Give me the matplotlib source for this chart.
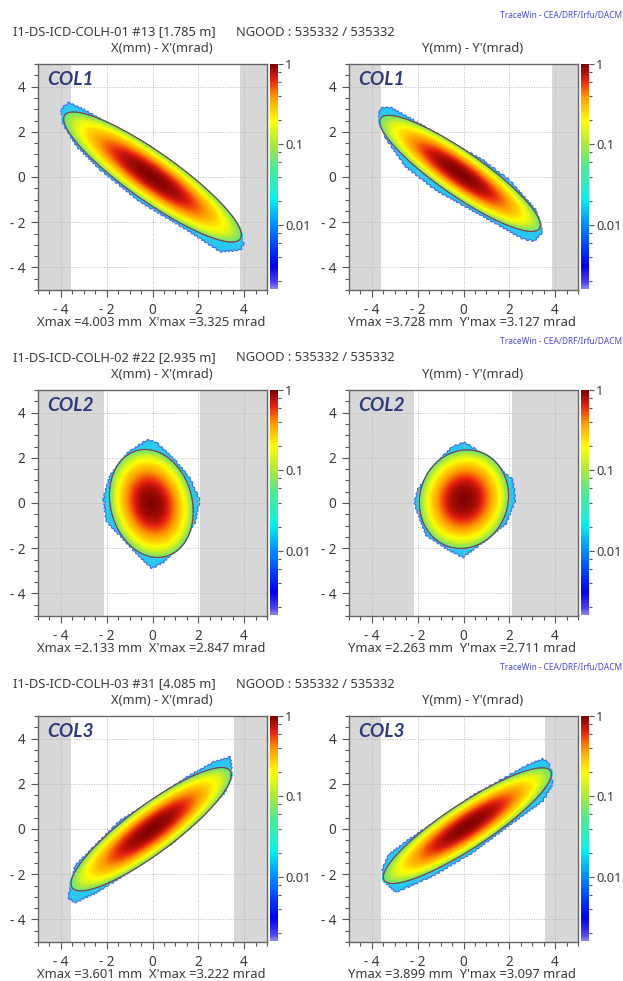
"""TraceWin phase-space plots at the three COLH collimators."""
import matplotlib
matplotlib.use("Agg")
import matplotlib.pyplot as plt
import numpy as np
from matplotlib.colors import LinearSegmentedColormap, LogNorm
from matplotlib.patches import Polygon
from matplotlib.ticker import FixedLocator, NullFormatter

W, H = 623, 981
plt.rcParams["font.family"] = ["Noto Sans", "DejaVu Sans"]

HEADERS = ["I1-DS-ICD-COLH-01 #13 [1.785 m]",
           "I1-DS-ICD-COLH-02 #22 [2.935 m]",
           "I1-DS-ICD-COLH-03 #31 [4.085 m]"]
NGOOD = "NGOOD : 535332 / 535332"
TAGS = ["COL1", "COL2", "COL3"]
SUBTITLES = ["X(mm) - X'(mrad)", "Y(mm) - Y'(mrad)"]
FOOTERS = [["Xmax =4.003 mm  X'max =3.325 mrad", "Ymax =3.728 mm  Y'max =3.127 mrad"],
           ["Xmax =2.133 mm  X'max =2.847 mrad", "Ymax =2.263 mm  Y'max =2.711 mrad"],
           ["Xmax =3.601 mm  X'max =3.222 mrad", "Ymax =3.899 mm  Y'max =3.097 mrad"]]

# collimator jaws (lower, upper) in mm
JAWS = [[(-3.57, 3.83), (-3.6, 3.87)],
        [(-2.13, 2.09), (-2.15, 2.1)],
        [(-3.55, 3.57), (-3.6, 3.57)]]

# rms ellipse: centre x, centre y, half width, half height, correlation
ELLIPSES = [[(0.0, 0.0, 3.88, 2.88, -0.892), (-0.15, 0.16, 3.51, 2.57, -0.89)],
            [(-0.05, -0.02, 1.83, 2.39, -0.15), (0.02, 0.17, 1.95, 2.18, 0.07)],
            [(-0.06, -0.01, 3.5, 2.73, 0.88), (0.17, 0.15, 3.67, 2.56, 0.89)]]

# outline of the beam halo
HALOS = [[
    [(-4.0, 3.0), (-3.68, 3.29), (-3.02, 3.0), (-2, 2.4), (0, 1.3), (2.38, -0.71), (3.55, -2.04),
     (3.99, -2.93), (3.84, -3.23), (2.96, -3.3), (1.5, -2.34), (-0.54, -1.1), (-2.29, 0.33),
     (-3.31, 1.36), (-3.9, 2.33)],
    [(-3.72, 2.68), (-3.62, 3.05), (-3.18, 3.08), (-2.09, 2.46), (-0.63, 1.57), (0.83, 0.76),
     (2, -0.13), (3.17, -1.47), (3.46, -2.43), (3.09, -2.84), (2.58, -2.73), (1.42, -2.06),
     (0.1, -1.32), (-1.21, -0.58), (-2.53, 0.46), (-3.4, 1.72)],
], [
    [(-2.15, 0.19), (-1.85, 1.23), (-1.12, 2.19), (-0.25, 2.79), (0.12, 2.71), (0.92, 1.97),
     (1.65, 1.08), (2.06, 0.12), (1.87, -0.84), (1.21, -1.88), (0.48, -2.62), (-0.03, -2.89),
     (-0.61, -2.33), (-1.42, -1.44), (-2, -0.84)],
    [(-2.15, -0.01), (-2, 0.58), (-1.2, 1.76), (-0.47, 2.5), (0.04, 2.68), (0.55, 2.36),
     (1.58, 1.54), (2.16, 1.02), (2.26, 0.13), (1.87, -0.9), (0.99, -1.64), (-0.03, -2.41),
     (-0.76, -2.01), (-1.64, -1.42)],
], [
    [(-3.68, -3.04), (-3.39, -1.63), (-2.58, -0.81), (-1.42, 0.37), (-0.1, 1.19), (1.5, 2.3),
     (2.67, 2.96), (3.4, 3.19), (3.47, 2.59), (3.18, 1.63), (2.38, 0.81), (0.92, -0.59),
     (-0.83, -1.78), (-2.44, -2.81), (-3.39, -3.26)],
    [(-3.55, -1.79), (-3.26, -1.13), (-2.38, -0.46), (-1.07, 0.43), (0.39, 1.47), (1.71, 2.21),
     (2.73, 2.8), (3.46, 3.1), (3.72, 2.95), (3.9, 1.99), (3.46, 1.24), (2.15, 0.28),
     (0.39, -1.05), (-1.36, -2.09), (-2.96, -2.8), (-3.47, -2.31)],
]]

# density against normalised ellipse radius
PROFILE_R = [0.0, 0.25, 0.37, 0.5, 0.62, 0.75, 0.88, 1.0]
PROFILE_D = [1.0, 0.85, 0.7, 0.5, 0.36, 0.24, 0.14, 0.06]

TICKS = [-4, -2, 0, 2, 4]
TICK_LABELS = ["- 4", "- 2", "0", "2", "4"]
MINOR_TICKS = [-5, -4.5, -3.5, -3, -2.5, -1.5, -1, -0.5, 0.5, 1, 1.5, 2.5, 3, 3.5, 4.5, 5]
CB_TICKS = [1, 0.1, 0.01]
CB_TICK_LABELS = ["1", "0.1", "0.01"]
CB_MINOR = [0.8, 0.6, 0.4, 0.2, 0.08, 0.06, 0.04, 0.02, 0.008, 0.006, 0.004, 0.002]

# colour bar stops, position from the bottom
CMAP_POS = [0, 0.03, 0.10, 0.19, 0.29, 0.40, 0.44, 0.545, 0.64, 0.75, 0.855, 0.93, 1]
CMAP_COL = ["#8a80f0", "#4a40f0", "#0000f0", "#0040ff", "#0090ff", "#00f0f0", "#20f0d0",
            "#50e890", "#a8e840", "#ffff00", "#ff9a00", "#e82010", "#7a0000"]

ROW_TOPS = [64, 390, 716]
COL_LEFTS = [38, 349]
AX_W, AX_H = 229, 226
CB_GAP, CB_W = 2.5, 8.5
TEXT_COLOR = "#3a3a3a"
GREY = "#d8d8d8"
VMIN = 0.0016
FS = 9.3


def fig_box(x, y, w, h):
    return [x / W, 1 - (y + h) / H, w / W, h / H]


def put(fig, x, y, s, **kw):
    kw.setdefault("color", TEXT_COLOR)
    kw.setdefault("va", "center")
    return fig.text(x / W, 1 - y / H, s, **kw)


CMAP = LinearSegmentedColormap.from_list("tw", list(zip(CMAP_POS, CMAP_COL)))
NORM = LogNorm(VMIN, 1)


def norm_radius(xx, yy, e):
    cx, cy, a, b, rho = e
    u, v = (xx - cx) / a, (yy - cy) / b
    return np.sqrt((u * u - 2 * rho * u * v + v * v) / (1 - rho * rho))


def ellipse_line(e, scale=1.0):
    cx, cy, a, b, rho = e
    t = np.linspace(0, 2 * np.pi, 300)
    return cx + scale * a * np.cos(t), cy + scale * b * np.cos(t - np.arccos(rho))


fig = plt.figure(figsize=(W / 100, H / 100), dpi=100)
grid = np.linspace(-5, 5, 451)
xx, yy = np.meshgrid(grid, grid)

for row, top in enumerate(ROW_TOPS):
    put(fig, 13, top - 32, HEADERS[row], fontsize=FS)
    put(fig, 236, top - 32, NGOOD, fontsize=FS)
    put(fig, 622, top - 48, "TraceWin - CEA/DRF/Irfu/DACM", fontsize=6.0,
        color="#4a4ae0", ha="right")
    for col, left in enumerate(COL_LEFTS):
        e = ELLIPSES[row][col]
        ax = fig.add_axes(fig_box(left, top, AX_W, AX_H))
        lo, hi = JAWS[row][col]
        ax.axvspan(-5, lo, color=GREY, lw=0, zorder=0)
        ax.axvspan(hi, 5, color=GREY, lw=0, zorder=0)
        ax.set_axisbelow(False)
        ax.grid(True, which="major", color="#b8b8b8", lw=0.7, ls=(0, (1, 1.6)), zorder=1)

        # halo rim under the density
        halo = Polygon(HALOS[row][col], closed=True, facecolor="#28c8f0", edgecolor="#3a70f0",
                       lw=0.8, joinstyle="round", zorder=2)
        halo.set_sketch_params(0.8, 5, 2)
        ax.add_patch(halo)
        rim_x, rim_y = ellipse_line(e, 1.02)
        ax.fill(rim_x, rim_y, color="#28d0e8", lw=0, zorder=2.5)

        r = norm_radius(xx, yy, e)
        dens = np.exp(np.interp(r, PROFILE_R, np.log(PROFILE_D)))
        dens = np.ma.masked_where(r > 1, dens)
        ax.imshow(dens, extent=(-5, 5, -5, 5), origin="lower", cmap=CMAP, norm=NORM,
                  interpolation="bilinear", aspect="auto", zorder=3)
        ax.plot(*ellipse_line(e), color="#8a3a45", lw=0.8, zorder=5)
        ax.set_xlim(-5, 5)
        ax.set_ylim(-5, 5)

        ax.set_xticks(TICKS, TICK_LABELS)
        ax.set_yticks(TICKS, TICK_LABELS)
        ax.xaxis.set_minor_locator(FixedLocator(MINOR_TICKS))
        ax.yaxis.set_minor_locator(FixedLocator(MINOR_TICKS))
        ax.tick_params(which="major", length=5, width=0.8, color="#555555",
                       labelsize=9.8, labelcolor=TEXT_COLOR, pad=4)
        ax.tick_params(which="minor", length=3, width=0.8, color="#555555")
        for s in ax.spines.values():
            s.set_color("#666666")
            s.set_linewidth(1.0)
            s.set_zorder(6)

        ax.text(0.04, 0.97, TAGS[row], transform=ax.transAxes, family="Lato",
                weight="bold", style="italic", fontsize=13.8, color="#2d3a7c",
                va="top", ha="left", zorder=7)

        cax = fig.add_axes(fig_box(left + AX_W + CB_GAP, top, CB_W, AX_H - 1))
        edges = np.geomspace(VMIN, 1, 257)
        cax.pcolormesh([0, 1], edges, np.sqrt(edges[:-1] * edges[1:]).reshape(-1, 1),
                       cmap=CMAP, norm=NORM, rasterized=True)
        cax.set_yscale("log")
        cax.set_ylim(VMIN, 1)
        cax.set_xticks([])
        cax.yaxis.tick_right()
        cax.set_yticks(CB_TICKS, CB_TICK_LABELS)
        cax.yaxis.set_minor_locator(FixedLocator(CB_MINOR))
        cax.yaxis.set_minor_formatter(NullFormatter())
        cax.tick_params(which="major", length=3.5, width=0.8, color="#555555",
                        labelsize=9.3, labelcolor=TEXT_COLOR, pad=1.5)
        cax.tick_params(which="minor", length=2.2, width=0.8, color="#555555")
        for s in cax.spines.values():
            s.set_visible(False)

        mid = left + AX_W / 2
        put(fig, mid + 9, top - 15, SUBTITLES[col], fontsize=FS, ha="center")
        put(fig, mid - 1.5, top + AX_H + 33, FOOTERS[row][col], fontsize=FS, ha="center")

fig.savefig("out.png", dpi=100)
